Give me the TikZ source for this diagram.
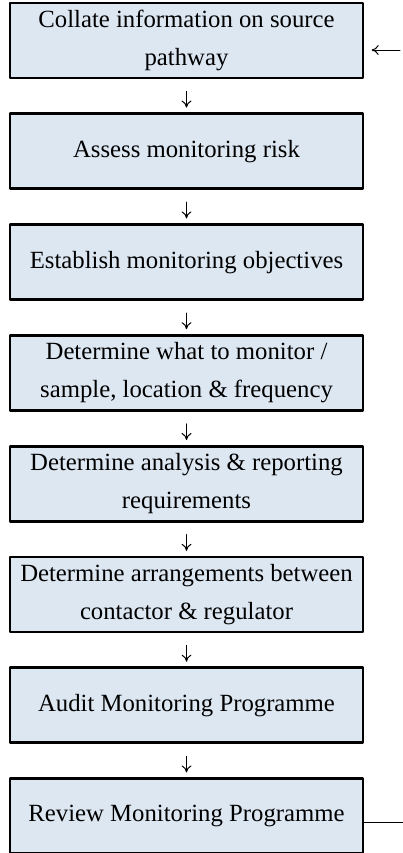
\documentclass[tikz,border=0pt]{standalone}
\usepackage{fontspec}
\setmainfont{Liberation Serif}
\usetikzlibrary{arrows.meta,positioning,calc}
\definecolor{boxfill}{HTML}{DDE7F2}
\tikzset{
  stage/.style={rectangle,draw=black,line width=2pt,fill=boxfill,
                minimum width=8.825cm,minimum height=1.875cm,inner sep=2pt,
                align=center,font=\fontsize{17.6}{27}\selectfont},
  flow/.style={-{To[length=5pt,width=7pt]},line width=0.7pt,
               shorten <=0.3cm,shorten >=0.12cm},
  every picture/.style={line cap=round,line join=round}}

\begin{document}
\begin{tikzpicture}[node distance=0.825cm]
  \useasboundingbox (0,0) rectangle (10.075,-21.325);
  \node[stage] (col) at (4.6625,-1.0125){Collate information on source\\pathway};
  \node[stage,below=of col] (risk){Assess monitoring risk};
  \node[stage,below=of risk] (obj){Establish monitoring objectives};
  \node[stage,below=of obj] (what){Determine what to monitor /\\sample, location \& frequency};
  \node[stage,below=of what] (ana){Determine analysis \& reporting\\requirements};
  \node[stage,below=of ana] (arr){Determine arrangements between\\contactor \& regulator};
  \node[stage,below=of arr] (aud){Audit Monitoring Programme};
  \node[stage,below=of aud] (rev){Review Monitoring Programme};
  \draw[flow] (col)--(risk); \draw[flow] (risk)--(obj);
  \draw[flow] (obj)--(what); \draw[flow] (what)--(ana);
  \draw[flow] (ana)--(arr); \draw[flow] (arr)--(aud);
  \draw[flow] (aud)--(rev);
  % loop back, cut at the edge
  \coordinate (fbin) at (10.0,-1.25);
  \coordinate (fbout) at (10.075,-20.55);
  \draw[flow,shorten <=0pt,shorten >=0.18cm] (fbin)--(col.east |- fbin);
  \draw[line width=0.7pt] (rev.east |- fbout)--(fbout);
\end{tikzpicture}
\end{document}
